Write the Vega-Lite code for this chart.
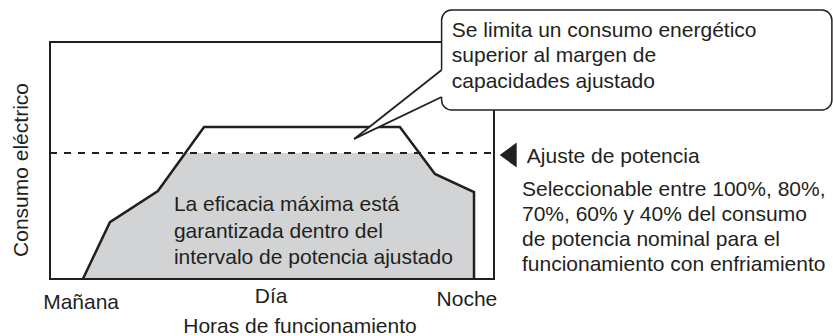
{
  "$schema": "https://vega.github.io/schema/vega-lite/v6.json",
  "width": 444,
  "height": 237,
  "autosize": {"type": "none"},
  "padding": {"left": 50, "top": 42, "right": 339, "bottom": 57},
  "background": "white",
  "config": {"view": {"stroke": null}},
  "datasets": {
    "curve": [
      {"o": 1, "t": 7.4, "c": 0},
      {"o": 2, "t": 13.5, "c": 24.0},
      {"o": 3, "t": 24.3, "c": 37.1},
      {"o": 4, "t": 34.7, "c": 64.1},
      {"o": 5, "t": 78.8, "c": 64.1},
      {"o": 6, "t": 86.7, "c": 44.3},
      {"o": 7, "t": 95.5, "c": 36.7},
      {"o": 8, "t": 95.5, "c": 0}
    ],
    "fillarea": [
      {"t": 7.4, "c": 0},
      {"t": 13.5, "c": 24.0},
      {"t": 24.3, "c": 37.1},
      {"t": 30.5, "c": 53.2},
      {"t": 83.1, "c": 53.2},
      {"t": 86.7, "c": 44.3},
      {"t": 95.5, "c": 36.7}
    ],
    "limit": [{"c": 53.2, "t0": 0, "t1": 100}],
    "frame": [
      {"t0": 0, "c0": 0, "t1": 0, "c1": 100},
      {"t0": 0, "c0": 0, "t1": 100, "c1": 0},
      {"t0": 0, "c0": 100, "t1": 88.2, "c1": 100},
      {"t0": 100, "c0": 0, "t1": 100, "c1": 71.3}
    ],
    "callout": [{"t0": 88.2, "t1": 176.1, "c0": 71.3, "c1": 113.5}],
    "pointerfill": [
      {"t": 68.5, "lo": 59.1, "hi": 59.1},
      {"t": 88.6, "lo": 77.1, "hi": 88.7}
    ],
    "pointer": [
      {"t0": 88.2, "c0": 88.2, "t1": 68.5, "c1": 59.1},
      {"t0": 68.5, "c0": 59.1, "t1": 88.2, "c1": 76.8}
    ],
    "marker": [{"t": 103.2, "c": 52.3}],
    "leftText": [
      {"t": 90.5, "c": 102.1, "label": "Se limita un consumo energético"},
      {"t": 90.5, "c": 91.4, "label": "superior al margen de"},
      {"t": 90.5, "c": 80.6, "label": "capacidades ajustado"},
      {"t": 27.9, "c": 28.7, "label": "La eficacia máxima está"},
      {"t": 27.9, "c": 17.5, "label": "garantizada dentro del"},
      {"t": 27.9, "c": 6.3, "label": "intervalo de potencia ajustado"},
      {"t": 107.4, "c": 48.9, "label": "Ajuste de potencia"},
      {"t": 106.3, "c": 35.0, "label": "Seleccionable entre 100%, 80%,"},
      {"t": 106.3, "c": 24.4, "label": "70%, 60% y 40% del consumo"},
      {"t": 106.3, "c": 13.8, "label": "de potencia nominal para el"},
      {"t": 106.3, "c": 3.2, "label": "funcionamiento con enfriamiento"}
    ],
    "centerText": [
      {"t": 7.0, "c": -12.7, "label": "Mañana"},
      {"t": 49.8, "c": -10.1, "label": "Día"},
      {"t": 93.9, "c": -11.4, "label": "Noche"},
      {"t": 56.3, "c": -22.8, "label": "Horas de funcionamiento"}
    ],
    "yTitle": [{"t": -4.95, "c": 46.0, "label": "Consumo eléctrico"}]
  },
  "layer": [
    {
      "data": {"name": "fillarea"},
      "mark": {"type": "area", "color": "#d1d3d4"},
      "encoding": {
        "x": {"field": "t", "type": "quantitative", "scale": {"domain": [0, 100], "nice": false, "zero": false}, "axis": null},
        "y": {"field": "c", "type": "quantitative", "scale": {"domain": [0, 100], "nice": false, "zero": false}, "axis": null},
        "y2": {"datum": 0}
      }
    },
    {
      "data": {"name": "limit"},
      "mark": {"type": "rule", "color": "#231f20", "strokeWidth": 2, "strokeDash": [7, 7]},
      "encoding": {
        "x": {"field": "t0", "type": "quantitative", "scale": {"domain": [0, 100], "nice": false, "zero": false}, "axis": null},
        "x2": {"field": "t1"},
        "y": {"field": "c", "type": "quantitative", "scale": {"domain": [0, 100], "nice": false, "zero": false}, "axis": null}
      }
    },
    {
      "data": {"name": "curve"},
      "mark": {"type": "line", "color": "#231f20", "strokeWidth": 2.5, "strokeJoin": "miter"},
      "encoding": {
        "x": {"field": "t", "type": "quantitative", "scale": {"domain": [0, 100], "nice": false, "zero": false}, "axis": null},
        "y": {"field": "c", "type": "quantitative", "scale": {"domain": [0, 100], "nice": false, "zero": false}, "axis": null},
        "order": {"field": "o"}
      }
    },
    {
      "data": {"name": "frame"},
      "mark": {"type": "rule", "color": "#231f20", "strokeWidth": 2, "strokeCap": "square"},
      "encoding": {
        "x": {"field": "t0", "type": "quantitative", "scale": {"domain": [0, 100], "nice": false, "zero": false}, "axis": null},
        "x2": {"field": "t1"},
        "y": {"field": "c0", "type": "quantitative", "scale": {"domain": [0, 100], "nice": false, "zero": false}, "axis": null},
        "y2": {"field": "c1"}
      }
    },
    {
      "data": {"name": "callout"},
      "mark": {"type": "rect", "fill": "white", "stroke": "#231f20", "strokeWidth": 1.5, "cornerRadius": 10},
      "encoding": {
        "x": {"field": "t0", "type": "quantitative", "scale": {"domain": [0, 100], "nice": false, "zero": false}, "axis": null},
        "x2": {"field": "t1"},
        "y": {"field": "c0", "type": "quantitative", "scale": {"domain": [0, 100], "nice": false, "zero": false}, "axis": null},
        "y2": {"field": "c1"}
      }
    },
    {
      "data": {"name": "pointerfill"},
      "mark": {"type": "area", "color": "white"},
      "encoding": {
        "x": {"field": "t", "type": "quantitative", "scale": {"domain": [0, 100], "nice": false, "zero": false}, "axis": null},
        "y": {"field": "lo", "type": "quantitative", "scale": {"domain": [0, 100], "nice": false, "zero": false}, "axis": null},
        "y2": {"field": "hi"}
      }
    },
    {
      "data": {"name": "pointer"},
      "mark": {"type": "rule", "color": "#231f20", "strokeWidth": 1.8},
      "encoding": {
        "x": {"field": "t0", "type": "quantitative", "scale": {"domain": [0, 100], "nice": false, "zero": false}, "axis": null},
        "x2": {"field": "t1"},
        "y": {"field": "c0", "type": "quantitative", "scale": {"domain": [0, 100], "nice": false, "zero": false}, "axis": null},
        "y2": {"field": "c1"}
      }
    },
    {
      "data": {"name": "marker"},
      "mark": {"type": "point", "shape": "M0.68,-1L0.68,1L-0.68,0Z", "size": 625, "filled": true, "color": "#231f20", "opacity": 1},
      "encoding": {
        "x": {"field": "t", "type": "quantitative", "scale": {"domain": [0, 100], "nice": false, "zero": false}, "axis": null},
        "y": {"field": "c", "type": "quantitative", "scale": {"domain": [0, 100], "nice": false, "zero": false}, "axis": null}
      }
    },
    {
      "data": {"name": "leftText"},
      "mark": {"type": "text", "align": "left", "baseline": "alphabetic", "font": "Liberation Sans", "fontSize": 21, "color": "#231f20"},
      "encoding": {
        "x": {"field": "t", "type": "quantitative", "scale": {"domain": [0, 100], "nice": false, "zero": false}, "axis": null},
        "y": {"field": "c", "type": "quantitative", "scale": {"domain": [0, 100], "nice": false, "zero": false}, "axis": null},
        "text": {"field": "label"}
      }
    },
    {
      "data": {"name": "centerText"},
      "mark": {"type": "text", "align": "center", "baseline": "alphabetic", "font": "Liberation Sans", "fontSize": 21, "color": "#231f20"},
      "encoding": {
        "x": {"field": "t", "type": "quantitative", "scale": {"domain": [0, 100], "nice": false, "zero": false}, "axis": null},
        "y": {"field": "c", "type": "quantitative", "scale": {"domain": [0, 100], "nice": false, "zero": false}, "axis": null},
        "text": {"field": "label"}
      }
    },
    {
      "data": {"name": "yTitle"},
      "mark": {"type": "text", "align": "center", "baseline": "alphabetic", "angle": 270, "font": "Liberation Sans", "fontSize": 21, "color": "#231f20"},
      "encoding": {
        "x": {"field": "t", "type": "quantitative", "scale": {"domain": [0, 100], "nice": false, "zero": false}, "axis": null},
        "y": {"field": "c", "type": "quantitative", "scale": {"domain": [0, 100], "nice": false, "zero": false}, "axis": null},
        "text": {"field": "label"}
      }
    }
  ]
}
